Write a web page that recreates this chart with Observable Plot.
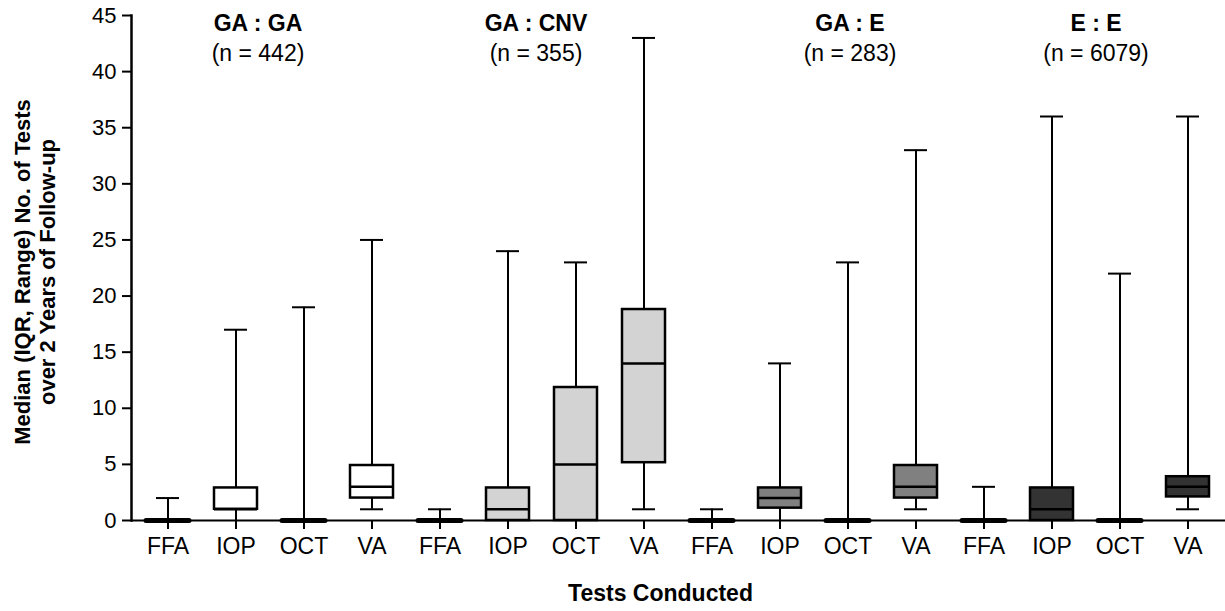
<!DOCTYPE html>
<html><head><meta charset="utf-8">
<script src="https://cdn.jsdelivr.net/npm/d3@7"></script>
<script src="https://cdn.jsdelivr.net/npm/@observablehq/plot@0.6"></script>
<style>body{margin:0;background:#fff;}</style>
</head><body><div id="chart"></div>
<script>
const groups = ["GA : GA", "GA : CNV", "GA : E", "E : E"];
const groupN = ["(n = 442)", "(n = 355)", "(n = 283)", "(n = 6079)"];
const tests = ["FFA", "IOP", "OCT", "VA"];
const groupFill = ["#ffffff", "#d3d3d3", "#808080", "#333333"];
const minVals = [[0, 0, 0, 1], [0, 0, 0, 1], [0, 0, 0, 1], [0, 0, 0, 1]];
const q1Vals  = [[0, 1, 0, 2], [0, 0, 0, 5.15], [0, 1.1, 0, 2], [0, 0, 0, 2.1]];
const medVals = [[0, 1, 0, 3], [0, 1, 5, 14], [0, 2, 0, 3], [0, 1, 0, 3]];
const q3Vals  = [[0, 2.9, 0, 4.9], [0, 2.9, 11.85, 18.8], [0, 2.9, 0, 4.9], [0, 2.9, 0, 3.9]];
const maxVals = [[2, 17, 19, 25], [1, 24, 23, 43], [1, 14, 23, 33], [3, 36, 22, 36]];
const yTicks = [0, 5, 10, 15, 20, 25, 30, 35, 40, 45];
const yTitle = "Median (IQR, Range) No. of Tests\nover 2 Years of Follow-up";
const xTitle = "Tests Conducted";

const rows = [];
groups.forEach((g, i) => tests.forEach((t, j) => rows.push({
  key: g + "|" + t, group: g, test: t, fill: groupFill[i],
  min: minVals[i][j], q1: q1Vals[i][j], med: medVals[i][j], q3: q3Vals[i][j], max: maxVals[i][j]
})));
const keys = rows.map(d => d.key);
const boxes = rows.filter(d => d.q3 > d.q1);
const flats = rows.filter(d => d.q3 === d.q1);

// group label anchors (category + pixel nudge)
const labelAnchor = [["IOP", 22], ["IOP", 28], ["OCT", 2], ["OCT", -24]];
const groupLabels = groups.map((g, i) => ({key: g + "|" + labelAnchor[i][0], dx: labelAnchor[i][1], title: g, n: groupN[i]}));

const capInset = 10;
const chart = Plot.plot({
  width: 1225, height: 611,
  marginLeft: 131, marginRight: 0, marginTop: 15, marginBottom: 91,
  style: {fontFamily: "'Liberation Sans', Arial, sans-serif", fontSize: "22px", color: "#000", background: "#fff"},
  x: {type: "band", domain: keys, paddingInner: 0.365, paddingOuter: 0.1825},
  y: {domain: [0, 45]},
  marks: [
    Plot.axisY({ticks: yTicks, tickSize: 9, tickPadding: 6, strokeWidth: 2, label: null, fontSize: 22}),
    Plot.axisX({tickSize: 9, tickPadding: 8, strokeWidth: 2, label: null, fontSize: 23, tickFormat: d => d.split("|")[1]}),
    Plot.ruleY([0], {strokeWidth: 2}),
    Plot.frame({anchor: "left", strokeWidth: 2.5}),
    Plot.ruleX(rows, {x: "key", y1: "min", y2: "max", strokeWidth: 2}),
    Plot.tickY(rows, {x: "key", y: "max", strokeWidth: 2, insetLeft: capInset, insetRight: capInset}),
    Plot.tickY(rows.filter(d => d.min > 0), {x: "key", y: "min", strokeWidth: 2, insetLeft: capInset, insetRight: capInset}),
    Plot.barY(boxes, {x: "key", y1: "q1", y2: "q3", fill: "fill", stroke: "#000", strokeWidth: 2.5}),
    Plot.tickY(boxes, {x: "key", y: "med", strokeWidth: 2.5}),
    Plot.tickY(flats, {x: "key", y: "med", strokeWidth: 5, strokeLinecap: "round"}),
    ...groupLabels.map(d => Plot.text([d], {x: "key", y: () => 45, text: "title", dx: d.dx, dy: 8, fontWeight: "bold", fontSize: 23})),
    ...groupLabels.map(d => Plot.text([d], {x: "key", y: () => 45, text: "n", dx: d.dx, dy: 38, fontSize: 23})),
    Plot.text([yTitle], {frameAnchor: "left", textAnchor: "middle", lineAnchor: "middle", rotate: -90, dx: -97, dy: 4, fontWeight: "bold", fontSize: 22, lineHeight: 1.14}),
    Plot.text([xTitle], {frameAnchor: "bottom", textAnchor: "middle", lineAnchor: "middle", dx: -18, dy: 73, fontWeight: "bold", fontSize: 23})
  ]
});
document.getElementById("chart").append(chart);
</script>
</body></html>
